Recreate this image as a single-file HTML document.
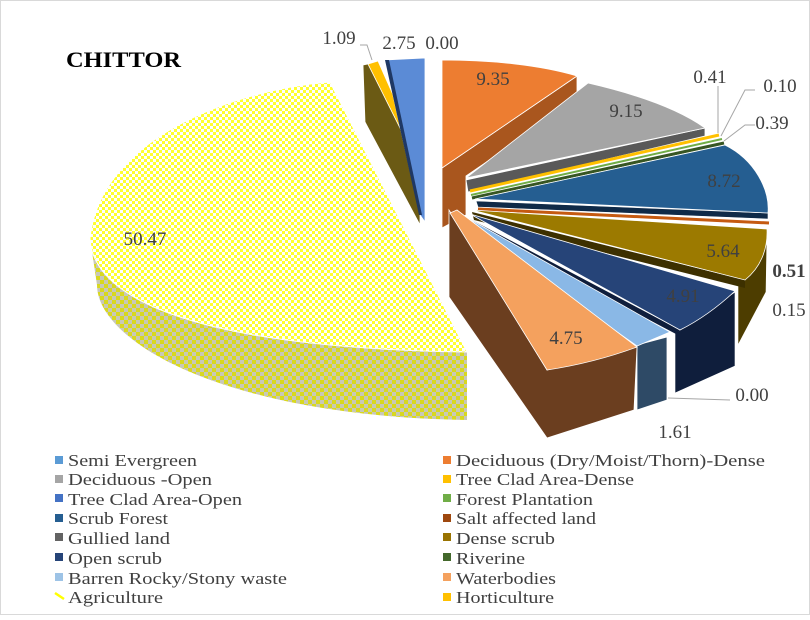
<!DOCTYPE html>
<html><head><meta charset="utf-8"><style>
body{margin:0;background:#fff}
svg text{font-family:"Liberation Serif",serif}
</style></head><body>
<svg width="810" height="615" viewBox="0 0 810 615" xmlns="http://www.w3.org/2000/svg">
<defs>
<pattern id="pt" width="6" height="6" patternUnits="userSpaceOnUse">
<rect width="6" height="6" fill="#ffff30"/><rect width="3" height="3" fill="#fff"/><rect x="3" y="3" width="3" height="3" fill="#fff"/></pattern>
<pattern id="ps" width="8" height="8" patternUnits="userSpaceOnUse">
<rect width="8" height="8" fill="#d8d820"/><rect width="4" height="4" fill="#c8c8b8"/><rect x="4" y="4" width="4" height="4" fill="#c8c8b8"/></pattern>
</defs>
<rect x="0.5" y="0.5" width="809" height="614" fill="#fff" stroke="#d9d9d9"/>
<text x="66" y="67" font-size="22" font-weight="bold" fill="#000" textLength="115" lengthAdjust="spacingAndGlyphs">CHITTOR</text>

<!-- Agriculture -->
<path d="M90,238 C92,300 200,348 467,352 L467,420 C220,416 97,340 97,285 Z" fill="url(#ps)"/>
<path d="M467,352 L330,82 C230,90 100,140 90,238 C92,300 200,348 467,352 Z" fill="url(#pt)" stroke="#fff" stroke-width="1"/>

<!-- horticulture / tree clad -->
<polygon points="363,65,368,64,420,165,420,225,365,122" fill="#6b5a14" stroke="#fff" stroke-width="0.8"/>
<polygon points="368,64,378,61,422,160,420,168" fill="#ffc000" stroke="#fff" stroke-width="0.8"/>
<polygon points="385,60,425,58,425,222,420,215" fill="#5b8bd6" stroke="#fff" stroke-width="0.8"/>
<polygon points="385,60,389,60,422,215,419,215" fill="#1f3864"/>

<!-- Orange Deciduous dense -->
<polygon points="442,168,577,76,577,100,466,176,466,215,442,228" fill="#a9561e" stroke="#fff" stroke-width="0.8"/>
<path d="M442,60 L442,168 L577,76 C540,65 490,60 442,60 Z" fill="#ed7d31" stroke="#fff" stroke-width="0.8"/>

<!-- Gray -->
<polygon points="466,180,705,128,705,136,468,192" fill="#595959" stroke="#fff" stroke-width="0.8"/>
<path d="M466,178 L588,83 C640,95 680,110 705,128 Z" fill="#a5a5a5" stroke="#fff" stroke-width="0.8"/>

<!-- thin slices -->
<line x1="470" y1="191" x2="719" y2="135" stroke="#ffc000" stroke-width="3"/>
<line x1="471" y1="195" x2="722" y2="139" stroke="#70ad47" stroke-width="2"/>
<line x1="472" y1="198" x2="724" y2="143" stroke="#375623" stroke-width="3"/>

<!-- Scrub forest -->
<polygon points="476,201,768,213,768,219,478,207" fill="#0f2a48" stroke="#fff" stroke-width="0.6"/>
<path d="M475,199 L725,145 C755,160 770,190 768,213 Z" fill="#255e91" stroke="#fff" stroke-width="0.8"/>
<line x1="478" y1="209" x2="769" y2="223" stroke="#c55a11" stroke-width="3"/>

<!-- Dense scrub -->
<polygon points="745,280,767,233,766,292,738,345,738,286" fill="#4d3d00" stroke="#fff" stroke-width="0.6"/>
<polygon points="472,212,745,280,745,288,474,220" fill="#3d3000"/>
<path d="M472,210 L767,229 C768,250 760,268 745,280 Z" fill="#9c7a00" stroke="#fff" stroke-width="0.8"/>

<!-- Open scrub -->
<polygon points="680,330,735,292,735,366,675,393,675,333" fill="#0f1e3c" stroke="#fff" stroke-width="0.6"/>
<polygon points="468,218,680,330,676,334,466,224" fill="#0f1e3c"/>
<path d="M470,214 L735,291 C720,305 700,320 680,330 Z" fill="#264478" stroke="#fff" stroke-width="0.8"/>

<!-- Barren -->
<polygon points="637,345,667,337,667,400,637,410" fill="#2e4a66" stroke="#fff" stroke-width="0.8"/>
<polygon points="457,212,670,332,637,346,452,216" fill="#8ab8e6" stroke="#fff" stroke-width="0.8"/>

<!-- Waterbodies -->
<polygon points="449,210,547,370,637,347,634,410,547,438,449,297" fill="#6b3e1f" stroke="#fff" stroke-width="0.8"/>
<path d="M450,213 L547,370 C580,365 610,357 637,347 L457,210 Z" fill="#f4a15e" stroke="#fff" stroke-width="0.8"/>

<!-- leader lines -->
<g stroke="#a6a6a6" stroke-width="1" fill="none">
<polyline points="718,133 718,86"/>
<polyline points="721,136 745,90 755,90"/>
<polyline points="724,141 745,125 755,125"/>
<polyline points="668,398 730,400"/>
<polyline points="372,60 367,45 360,45"/>
</g>

<g font-size="19" fill="#404040" text-anchor="middle">
<text x="493" y="85">9.35</text>
<text x="626" y="117">9.15</text>
<text x="724" y="187">8.72</text>
<text x="723" y="257">5.64</text>
<text x="683" y="302">4.91</text>
<text x="566" y="344">4.75</text>
<text x="145" y="245">50.47</text>
<text x="710" y="83">0.41</text>
<text x="780" y="92">0.10</text>
<text x="772" y="129">0.39</text>
<text x="789" y="277" font-weight="bold">0.51</text>
<text x="789" y="316">0.15</text>
<text x="752" y="401">0.00</text>
<text x="675" y="438">1.61</text>
<text x="339" y="44">1.09</text>
<text x="399" y="49">2.75</text>
<text x="442" y="49">0.00</text>
</g>

<g font-size="17" fill="#404040">
<rect x="55" y="456" width="8" height="8" fill="#5b9bd5"/><text x="68" y="466" textLength="129" lengthAdjust="spacingAndGlyphs">Semi Evergreen</text>
<rect x="55" y="475" width="8" height="8" fill="#a5a5a5"/><text x="68" y="485" textLength="144" lengthAdjust="spacingAndGlyphs">Deciduous -Open</text>
<rect x="55" y="494" width="8" height="8" fill="#4472c4"/><text x="68" y="505" textLength="174" lengthAdjust="spacingAndGlyphs">Tree Clad Area-Open</text>
<rect x="55" y="514" width="8" height="8" fill="#255e91"/><text x="68" y="524" textLength="100" lengthAdjust="spacingAndGlyphs">Scrub Forest</text>
<rect x="55" y="533" width="8" height="8" fill="#636363"/><text x="68" y="544" textLength="102" lengthAdjust="spacingAndGlyphs">Gullied land</text>
<rect x="55" y="553" width="8" height="8" fill="#264478"/><text x="68" y="564" textLength="94" lengthAdjust="spacingAndGlyphs">Open scrub</text>
<rect x="55" y="573" width="8" height="8" fill="#9dc3e6"/><text x="68" y="584" textLength="219" lengthAdjust="spacingAndGlyphs">Barren Rocky/Stony waste</text>
<path d="M55,593 l3,2 l3,2 l3,2" stroke="#ffff00" stroke-width="2.5" fill="none"/><text x="68" y="603" textLength="95" lengthAdjust="spacingAndGlyphs">Agriculture</text>

<rect x="443" y="456" width="8" height="8" fill="#ed7d31"/><text x="456" y="466" textLength="309" lengthAdjust="spacingAndGlyphs">Deciduous (Dry/Moist/Thorn)-Dense</text>
<rect x="443" y="475" width="8" height="8" fill="#ffc000"/><text x="456" y="485" textLength="178" lengthAdjust="spacingAndGlyphs">Tree Clad Area-Dense</text>
<rect x="443" y="494" width="8" height="8" fill="#70ad47"/><text x="456" y="505" textLength="137" lengthAdjust="spacingAndGlyphs">Forest Plantation</text>
<rect x="443" y="514" width="8" height="8" fill="#9e480e"/><text x="456" y="524" textLength="140" lengthAdjust="spacingAndGlyphs">Salt affected land</text>
<rect x="443" y="533" width="8" height="8" fill="#997300"/><text x="456" y="544" textLength="99" lengthAdjust="spacingAndGlyphs">Dense scrub</text>
<rect x="443" y="553" width="8" height="8" fill="#43682b"/><text x="456" y="564" textLength="69" lengthAdjust="spacingAndGlyphs">Riverine</text>
<rect x="443" y="573" width="8" height="8" fill="#f4a15e"/><text x="456" y="584" textLength="100" lengthAdjust="spacingAndGlyphs">Waterbodies</text>
<rect x="443" y="593" width="8" height="8" fill="#ffc000"/><text x="456" y="603" textLength="98" lengthAdjust="spacingAndGlyphs">Horticulture</text>
</g>
</svg>
</body></html>
